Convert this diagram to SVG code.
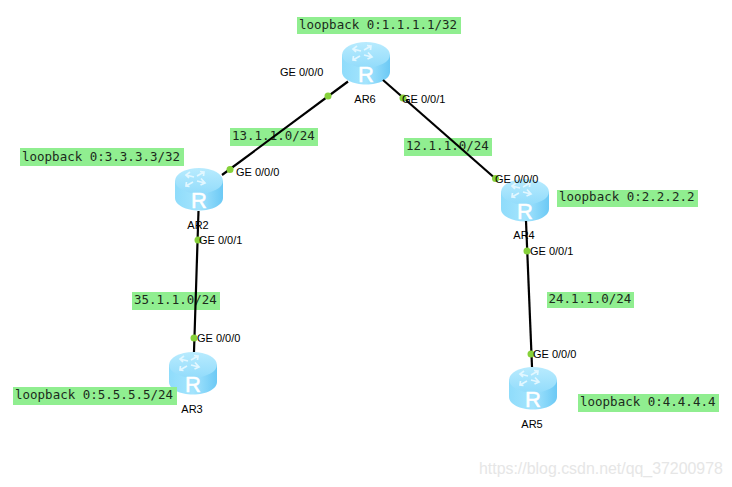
<svg xmlns="http://www.w3.org/2000/svg" width="732" height="487" viewBox="0 0 732 487">
<defs>
<style>
.g{fill:#90ee90}
.m{font-family:"DejaVu Sans Mono","Liberation Mono",monospace;font-size:12.5px;fill:#1c2a1c}
.s{font-family:"Liberation Sans",Arial,sans-serif;font-size:11px;fill:#000}
.l{stroke:#000;stroke-width:2.2;fill:none}
.d{fill:#86d13a}
.w{font-family:"Liberation Sans",Arial,sans-serif;font-size:15.9px;fill:#e6e6e6}
.rl{font-family:"Liberation Sans",Arial,sans-serif;font-size:22px;fill:#fff;stroke:#fff;stroke-width:.5}
.ic{fill:none;stroke:#e2f7ff;stroke-width:1.7}
</style>
<linearGradient id="body" x1="0" x2="1" y1="0" y2="0">
<stop offset="0" stop-color="#8fdcfb"/><stop offset=".5" stop-color="#a4e4fd"/><stop offset="1" stop-color="#6cc9f5"/>
</linearGradient>
<linearGradient id="top" x1="0" x2="0" y1="0" y2="1">
<stop offset="0" stop-color="#b8ebfe"/><stop offset="1" stop-color="#93dcfb"/>
</linearGradient>
<g id="router">
<path d="M0 13V30C0 37 11 42.500 24 42.500S48 37 48 30V13Z" fill="url(#body)"/>
<ellipse cx="24" cy="12.800" rx="24" ry="12.800" fill="url(#top)"/>
<path class="ic" d="M11 7L19 9M15 4L11 7L14 10M29 4L22 8M25 3.500L29 4L28.500 8M11 18L18 14M14.500 18.500L11 18L11.500 14M30 15L22 13M26 10.500L30 15L25.500 17"/>
<text class="rl" x="24" y="40" text-anchor="middle">R</text>
</g>
</defs>
<rect width="732" height="487" fill="#fff"/>
<g id="ar6"><use href="#router" x="342" y="42"/><text class="s" x="365" y="103" text-anchor="middle">AR6</text></g>
<g id="ar2"><use href="#router" x="175" y="168"/><text class="s" x="198" y="229" text-anchor="middle">AR2</text></g>
<g id="ar3"><use href="#router" x="169" y="352"/><text class="s" x="192" y="413" text-anchor="middle">AR3</text></g>
<g id="ar4"><use href="#router" x="501" y="179"/><text class="s" x="524" y="239" text-anchor="middle">AR4</text></g>
<g id="ar5"><use href="#router" x="509" y="367"/><text class="s" x="532" y="428" text-anchor="middle">AR5</text></g>
<g id="labels">
<rect class="g" x="297" y="17" width="164" height="17"/><text class="m" x="299" y="29">loopback 0:1.1.1.1/32</text>
<rect class="g" x="20" y="148" width="164" height="18"/><text class="m" x="22" y="160.500">loopback 0:3.3.3.3/32</text>
<rect class="g" x="557" y="190" width="141" height="17"/><text class="m" x="559" y="201">loopback 0:2.2.2.2</text>
<rect class="g" x="13" y="387" width="164" height="18"/><text class="m" x="15" y="399">loopback 0:5.5.5.5/24</text>
<rect class="g" x="578" y="394" width="141" height="18"/><text class="m" x="580" y="406">loopback 0:4.4.4.4</text>
<rect class="g" x="230" y="128" width="88" height="18"/><text class="m" x="232" y="140">13.1.1.0/24</text>
<rect class="g" x="404" y="138" width="88" height="18"/><text class="m" x="406" y="150">12.1.1.0/24</text>
<rect class="g" x="132" y="292" width="88" height="18"/><text class="m" x="134" y="304">35.1.1.0/24</text>
<rect class="g" x="547" y="292" width="87" height="16"/><text class="m" x="548.500" y="303">24.1.1.0/24</text>
</g>
<g id="connectors">
<line class="l" x1="348" y1="81.500" x2="222" y2="175"/>
<line class="l" x1="383" y1="80" x2="497" y2="180"/>
<line class="l" x1="198.500" y1="211" x2="194" y2="352"/>
<line class="l" x1="526" y1="221" x2="532" y2="367"/>
<circle class="d" cx="328" cy="96" r="3.500"/>
<circle class="d" cx="403" cy="98" r="3.500"/>
<circle class="d" cx="230" cy="169.500" r="3.500"/>
<circle class="d" cx="495.500" cy="178.500" r="3.500"/>
<circle class="d" cx="198" cy="240" r="3.500"/>
<circle class="d" cx="194" cy="338" r="3.500"/>
<circle class="d" cx="527" cy="251" r="3.500"/>
<circle class="d" cx="531" cy="354" r="3.500"/>
</g>
<g id="ports">
<text class="s" x="280" y="76">GE 0/0/0</text>
<text class="s" x="402" y="103">GE 0/0/1</text>
<text class="s" x="236" y="176">GE 0/0/0</text>
<text class="s" x="495" y="183">GE 0/0/0</text>
<text class="s" x="199" y="244">GE 0/0/1</text>
<text class="s" x="197" y="342">GE 0/0/0</text>
<text class="s" x="530" y="255">GE 0/0/1</text>
<text class="s" x="533" y="358">GE 0/0/0</text>
</g>
<text class="w" x="479" y="474">https://blog.csdn.net/qq_37200978</text>
</svg>
